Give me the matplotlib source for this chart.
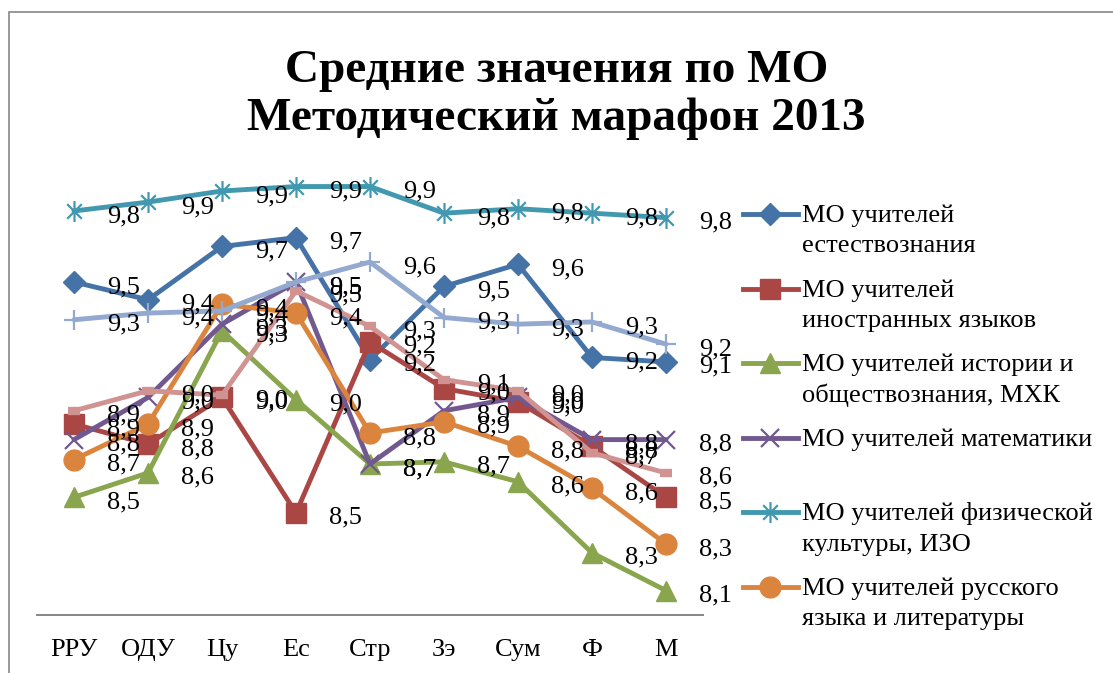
import matplotlib.pyplot as plt
from matplotlib.lines import Line2D
from matplotlib.path import Path
from matplotlib.patches import Rectangle

plt.rcParams['font.family'] = ['Liberation Serif', 'DejaVu Serif']

categories = ['РРУ', 'ОДУ', 'Цу', 'Ес', 'Стр', 'Зэ', 'Сум', 'Ф', 'М']

natural = [9.50, 9.42, 9.66, 9.70, 9.15, 9.48, 9.58, 9.16, 9.14]
foreign = [8.86, 8.77, 8.98, 8.46, 9.23, 9.02, 8.96, 8.76, 8.53]
history = [8.53, 8.64, 9.28, 8.97, 8.68, 8.69, 8.60, 8.28, 8.11]
maths = [8.79, 8.98, 9.31, 9.50, 8.68, 8.92, 8.98, 8.79, 8.79]
sport = [9.82, 9.86, 9.91, 9.93, 9.93, 9.81, 9.83, 9.81, 9.79]
russian = [8.70, 8.86, 9.40, 9.36, 8.82, 8.87, 8.76, 8.57, 8.32]
series7 = [9.33, 9.36, 9.37, 9.50, 9.59, 9.34, 9.31, 9.32, 9.22]
series8 = [8.92, 9.01, 8.99, 9.46, 9.30, 9.06, 9.01, 8.73, 8.64]

names = ['МО учителей\nестествознания',
         'МО учителей\nиностранных языков',
         'МО учителей истории и\nобществознания, МХК',
         'МО учителей математики',
         'МО учителей физической\nкультуры, ИЗО',
         'МО учителей русского\nязыка и литературы']

# excel-like asterisk: X plus vertical bar
star = Path([(0, -1), (0, 1), (-0.7, -0.7), (0.7, 0.7), (-0.7, 0.7), (0.7, -0.7)],
            [Path.MOVETO, Path.LINETO] * 3)

styles = [
    (natural, '#4572A7', dict(marker='D', ms=11)),
    (foreign, '#AA4643', dict(marker='s', ms=14)),
    (history, '#89A54E', dict(marker='^', ms=15)),
    (maths, '#71588F', dict(marker='x', ms=13, mew=1.6)),
    (sport, '#4198AF', dict(marker=star, ms=15, mew=1.6)),
    (russian, '#DB843D', dict(marker='o', ms=15)),
    (series7, '#93A9CF', dict(marker='+', ms=14, mew=1.6)),
    (series8, '#D19392', dict(marker='_', ms=9, mew=6)),
]

W, H = 1113, 673
fig = plt.figure(figsize=(W / 100, H / 100), dpi=100)
ax = fig.add_axes([37 / W, (H - 615) / H, 666 / W, 444 / H])

x = list(range(len(categories)))
for vals, col, mk in styles:
    ax.plot(x, vals, color=col, lw=3.5, solid_capstyle='round',
            mfc=col, mec=col, **mk)
for vals, col, mk in styles:
    for xi, v in zip(x, vals):
        ax.annotate(f'{v:.1f}'.replace('.', ','), (xi, v), xytext=(33, -11),
                    textcoords='offset pixels', ha='left', va='baseline',
                    fontsize=19, color='black')

ax.set_xlim(-0.5, len(categories) - 0.5)
ax.set_ylim(8.0, 10.0)
ax.set_xticks(x)
ax.set_xticklabels(categories, fontsize=19)
ax.set_yticks([])
ax.tick_params(axis='x', length=0, pad=17)
for s in ['top', 'right', 'left']:
    ax.spines[s].set_visible(False)
ax.spines['bottom'].set_color('#868686')
ax.spines['bottom'].set_linewidth(1.4)
ax.patch.set_alpha(0)

fig.text(0.5, 1 - 95 / H, 'Средние значения по МО\nМетодический марафон 2013',
         ha='center', va='center', fontsize=34, fontweight='bold',
         linespacing=1.2)

# legend drawn by hand so the key sits on the first text line like in Excel
def fx(px):
    return px / W

def fy(py):
    return 1 - py / H

for i, (name, (vals, col, mk)) in enumerate(zip(names, styles[:6])):
    yc = 214 + 74.6 * i
    fig.add_artist(Line2D([fx(743), fx(798)], [fy(yc), fy(yc)], color=col, lw=3.5,
                          transform=fig.transFigure))
    fig.add_artist(Line2D([fx(770)], [fy(yc)], color=col, mfc=col, mec=col,
                          transform=fig.transFigure, **mk))
    for j, line in enumerate(name.split('\n')):
        fig.text(fx(802), fy(yc + 8 + 30.5 * j), line, ha='left', va='baseline',
                 fontsize=19)

fig.add_artist(Rectangle((fx(9), fy(H + 20)), 1.2, fy(12) - fy(H + 20),
                         transform=fig.transFigure, fill=False,
                         edgecolor='#868686', lw=1.2))

fig.savefig('out.png', dpi=100)
